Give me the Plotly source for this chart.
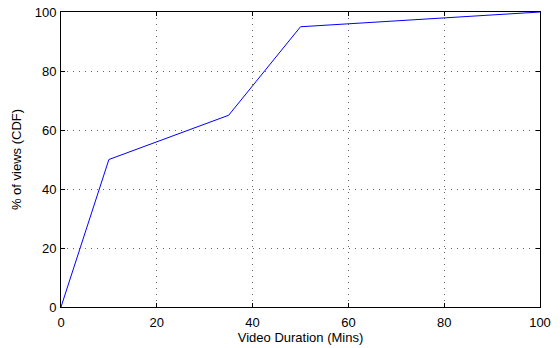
import plotly.graph_objects as go

duration_mins = [0, 10, 35, 50, 100]
pct_views_cdf = [0, 50, 65, 95, 100]
x_ticks = [0, 20, 40, 60, 80, 100]
y_ticks = [0, 20, 40, 60, 80, 100]

fig = go.Figure()
fig.add_trace(go.Scatter(x=duration_mins, y=pct_views_cdf, mode="lines",
                         line=dict(color="#0000ff", width=1), showlegend=False))

axis_common = dict(
    showline=True, linecolor="black", linewidth=1, mirror="ticks",
    ticks="inside", ticklen=4, tickcolor="black", automargin=False,
    showgrid=True, gridcolor="#666666", griddash="1px,5px", gridwidth=1,
    zeroline=False, tickfont=dict(size=13, color="black"),
)
fig.update_xaxes(range=[0, 100], tickvals=x_ticks, ticklabelstandoff=3,
                 title=dict(text="Video Duration (Mins)", font=dict(size=13, color="black"), standoff=3),
                 **axis_common)
fig.update_yaxes(range=[0, 100], tickvals=y_ticks, ticklabelstandoff=1,
                 title=dict(text="% of views (CDF)", font=dict(size=13, color="black"), standoff=10),
                 **axis_common)
fig.update_layout(
    width=560, height=348,
    margin=dict(l=61, r=20, t=12, b=41),
    plot_bgcolor="white", paper_bgcolor="white",
    font=dict(family="Liberation Sans, Arial, sans-serif", size=13, color="black"),
)
fig.write_html("out.html", config={"displayModeBar": False},
               post_script="document.body.style.margin='0';document.body.style.padding='0';")
